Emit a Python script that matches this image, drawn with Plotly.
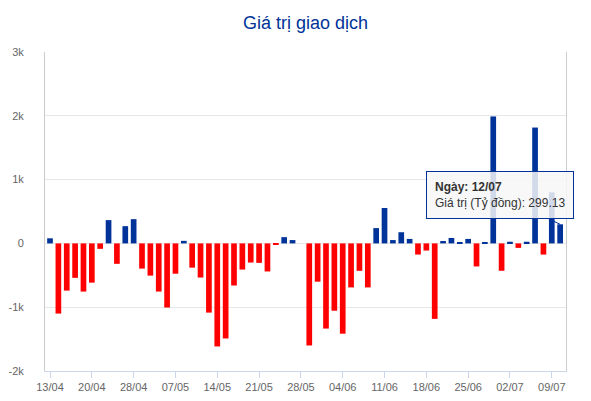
import plotly.graph_objects as go

# trading days (2021) shown on the chart
dates = [
    "13/04", "14/04", "15/04", "16/04", "19/04", "20/04", "22/04", "23/04", "26/04", "27/04",
    "28/04", "29/04", "04/05", "05/05", "06/05", "07/05", "10/05", "11/05", "12/05", "13/05",
    "14/05", "17/05", "18/05", "19/05", "20/05", "21/05", "24/05", "25/05", "26/05", "27/05",
    "28/05", "31/05", "01/06", "02/06", "03/06", "04/06", "07/06", "08/06", "09/06", "10/06",
    "11/06", "14/06", "15/06", "16/06", "17/06", "18/06", "21/06", "22/06", "23/06", "24/06",
    "25/06", "28/06", "29/06", "30/06", "01/07", "02/07", "05/07", "06/07", "07/07", "08/07",
    "09/07", "12/07",
]

# net value, ty dong
values = [
    80, -1100, -740, -540, -755, -615, -85, 365, -320, 270,
    380, -395, -505, -755, -1005, -475, 40, -380, -535, -1085,
    -1615, -1490, -660, -410, -300, -305, -440, -20, 98, 52,
    0, -1600, -600, -1335, -1055, -1415, -690, -430, -690, 240,
    555, 52, 175, 70, -175, -112, -1183, 37, 85, 10,
    70, -361, 10, 1990, -429, 26, -70, 26, 1816, -175,
    800, 299.13,
]

tick_dates = ["13/04", "20/04", "28/04", "07/05", "14/05", "21/05", "28/05",
              "04/06", "11/06", "18/06", "25/06", "02/07", "09/07"]
y_ticks = [-2000, -1000, 0, 1000, 2000, 3000]
y_labels = ["-2k", "-1k", "0", "1k", "2k", "3k"]

hover_idx = len(dates) - 1

BLUE = "#003399"
RED = "#ff0000"
colors = [BLUE if v >= 0 else RED for v in values]

fig = go.Figure(go.Bar(
    x=dates, y=values,
    marker=dict(color=colors, line=dict(width=0)),
    hovertemplate="<b>Ngày: %{x}</b><br>Giá trị (Tỷ đồng): %{y}<extra></extra>",
))

# page body has an 8px margin, so the figure is a bit smaller than the window
fig.update_layout(
    width=583, height=393,
    margin=dict(l=37, r=25, t=44, b=30, autoexpand=False),
    paper_bgcolor="white", plot_bgcolor="white",
    font=dict(family="Liberation Sans, Arial, sans-serif", size=11, color="#666666"),
    title=dict(text="Giá trị giao dịch", x=0.5, xref="paper", xanchor="center",
               y=0.962, yref="container", yanchor="middle", automargin=False,
               font=dict(size=18, color=BLUE)),
    bargap=0.32,
    showlegend=False,
)

fig.update_xaxes(
    type="category",
    range=[-0.6, len(dates) - 0.3],
    tickvals=tick_dates, ticktext=tick_dates,
    showgrid=False,
    showline=True, linecolor="#ccd6eb", linewidth=1,
    ticks="outside", ticklen=6, tickcolor="#ccd6eb",
    tickfont=dict(size=11, color="#666666"),
    automargin=False,
)

fig.update_yaxes(
    range=[-2000, 3000],
    tickvals=y_ticks, ticktext=y_labels,
    showgrid=True, gridcolor="#e6e6e6", gridwidth=1,
    zeroline=True, zerolinecolor="#e6e6e6", zerolinewidth=1,
    showline=True, linecolor="#cccccc", linewidth=1, mirror=True,
    ticks="", ticklabelstandoff=18,
    tickfont=dict(size=11, color="#666666"),
    automargin=False,
)

# tooltip for the hovered bar
fig.add_annotation(
    x=dates[hover_idx], y=values[hover_idx],
    text=f"<b>Ngày: {dates[hover_idx]}</b><br>Giá trị (Tỷ đồng): {values[hover_idx]:.2f}",
    showarrow=True, arrowhead=0, arrowwidth=1, arrowcolor=BLUE,
    ax=-60, ay=-29, standoff=0,
    align="left",
    font=dict(size=12, color="#333333"),
    bgcolor="rgba(247,247,247,0.85)",
    bordercolor=BLUE, borderwidth=1, borderpad=8,
)

fig.write_html("out.html")
